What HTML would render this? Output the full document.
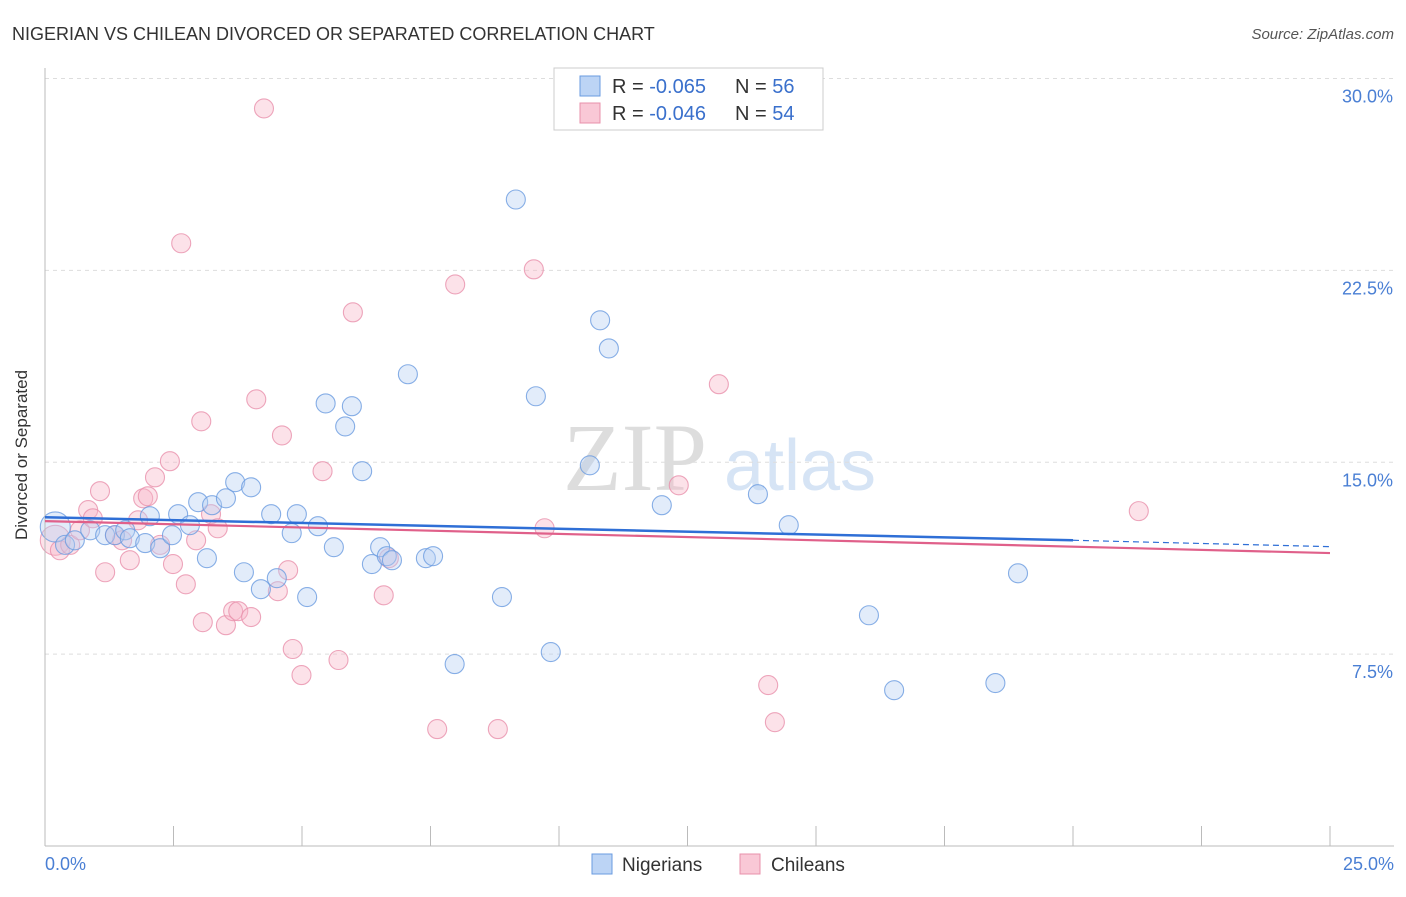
<!DOCTYPE html>
<html><head><meta charset="utf-8"><style>
body{margin:0;background:#fff;font-family:"Liberation Sans",sans-serif}
</style></head><body>
<svg id="c" width="1406" height="892" xmlns="http://www.w3.org/2000/svg">
<text x="12" y="40" font-size="18" fill="#333">NIGERIAN VS CHILEAN DIVORCED OR SEPARATED CORRELATION CHART</text>
<text x="1394" y="39" font-size="15" fill="#555" font-style="italic" text-anchor="end">Source: ZipAtlas.com</text>
<text x="635" y="490" font-size="96" fill="#ddd" font-family="Liberation Serif" text-anchor="middle">ZIP</text>
<text x="800" y="490" font-size="72" fill="#d6e4f5" text-anchor="middle">atlas</text>
<g id="grid"></g><g id="marks"></g>
<line x1="45" y1="68" x2="45" y2="846" stroke="#bbb"/>
<line x1="45" y1="846" x2="1394" y2="846" stroke="#bbb"/>
<text x="27" y="455" font-size="17" fill="#333" text-anchor="middle" transform="rotate(-90 27 455)">Divorced or Separated</text>
<text x="45" y="870" font-size="18" fill="#4a7fd4">0.0%</text>
<text x="1394" y="870" font-size="18" fill="#4a7fd4" text-anchor="end">25.0%</text>
<rect x="554" y="68" width="269" height="62" fill="#fff" stroke="#ccc"/>
<rect x="580" y="76" width="20" height="20" fill="#bcd4f5" stroke="#6a9be0"/>
<rect x="580" y="103" width="20" height="20" fill="#f9c8d6" stroke="#e890ab"/>
<text x="612" y="93" font-size="20" fill="#333">R = <tspan fill="#3a70cc">-0.065</tspan></text>
<text x="735" y="93" font-size="20" fill="#333">N = <tspan fill="#3a70cc">56</tspan></text>
<text x="612" y="120" font-size="20" fill="#333">R = <tspan fill="#3a70cc">-0.046</tspan></text>
<text x="735" y="120" font-size="20" fill="#333">N = <tspan fill="#3a70cc">54</tspan></text>
<rect x="592" y="854" width="20" height="20" fill="#bcd4f5" stroke="#6a9be0"/>
<text x="622" y="871" font-size="19" fill="#333">Nigerians</text>
<rect x="740" y="854" width="20" height="20" fill="#f9c8d6" stroke="#e890ab"/>
<text x="771" y="871" font-size="19" fill="#333">Chileans</text>
</svg>
<script>
const yTicks=[7.5,15,22.5,30];
const xTicks=[0,2.5,5,7.5,10,12.5,15,17.5,20,22.5,25];
const nigX=[0.2,0.39,0.58,0.88,1.17,1.36,1.56,1.65,1.95,2.04,2.24,2.47,2.59,2.82,2.98,3.15,3.25,3.52,3.7,3.87,4.01,4.2,4.4,4.51,4.8,4.9,5.1,5.31,5.46,5.62,5.84,5.97,6.17,6.36,6.52,6.65,6.75,7.06,7.41,7.55,7.97,8.89,9.16,9.55,9.84,10.6,10.8,10.97,12.0,13.87,14.47,16.03,16.52,18.49,18.93];
const nigY=[12.47,11.77,11.95,12.34,12.15,12.15,12.34,12.03,11.84,12.89,11.64,12.15,12.97,12.54,13.44,11.25,13.32,13.59,14.22,10.7,14.02,10.04,12.97,10.47,12.23,12.97,9.73,12.5,17.3,11.68,16.4,17.19,14.65,11.02,11.68,11.33,11.17,18.44,11.25,11.33,7.11,9.73,25.27,17.58,7.58,14.88,20.55,19.45,13.32,13.75,12.54,9.02,6.09,6.37,10.66];
const chiX=[0.2,0.29,0.49,0.68,0.84,0.93,1.07,1.17,1.36,1.5,1.65,1.81,1.91,2.0,2.14,2.24,2.43,2.49,2.65,2.74,2.94,3.04,3.07,3.23,3.36,3.52,3.66,3.76,4.01,4.11,4.26,4.53,4.61,4.73,4.82,4.99,5.4,5.71,5.99,6.59,6.69,7.63,7.98,8.81,9.51,9.72,12.33,13.11,14.07,14.2,21.28];
const chiY=[11.95,11.56,11.77,12.34,13.13,12.81,13.87,10.7,12.15,11.95,11.17,12.73,13.59,13.67,14.41,11.77,15.04,11.02,23.56,10.23,11.95,16.6,8.75,12.97,12.42,8.63,9.18,9.18,8.95,17.46,28.83,9.96,16.05,10.78,7.7,6.68,14.65,7.27,20.86,9.8,11.25,4.57,21.95,4.57,22.54,12.42,14.1,18.05,6.29,4.84,13.09];
const nigTrend=[12.85,11.95,11.7];
const chiTrend=[12.7,11.45];
const X=v=>45+v/25*1285, Y=v=>846-v/30*767.5;
const NS="http://www.w3.org/2000/svg";
function mk(t,a,p){const e=document.createElementNS(NS,t);for(const k in a)e.setAttribute(k,a[k]);p.appendChild(e);return e;}
const g=document.getElementById('grid'),m=document.getElementById('marks'),svg=document.getElementById('c');
yTicks.forEach(v=>{const l=mk('line',{x1:45,x2:1394,y1:Y(v),y2:Y(v),stroke:'#ddd','stroke-dasharray':'4,4'},g);

const t=mk('text',{x:1393,y:Y(v)+24,'font-size':18,fill:'#4a7fd4','text-anchor':'end'},g);t.textContent=v.toFixed(1)+'%';
});
xTicks.forEach(v=>{const l=mk('line',{x1:X(v),x2:X(v),y1:826,y2:846,stroke:'#bbb'},g);
});
function pts(xs,ys,f,s,name){xs.forEach((x,i)=>{const r=i==0?15:9.5;const c=mk('circle',{cx:X(x),cy:Y(ys[i]),r:r,fill:f,'fill-opacity':0.4,stroke:s,'stroke-opacity':0.8,'stroke-width':1.1},m);
});}
pts(chiX,chiY,'#f7b6c9','#e890ab','chilean-point');
pts(nigX,nigY,'#b6cff3','#6a9be0','nigerian-point');
let l=mk('line',{x1:X(0),y1:Y(nigTrend[0]),x2:X(20),y2:Y(nigTrend[1]),stroke:'#2f6fd6','stroke-width':2.5},svg);

l=mk('line',{x1:X(20),y1:Y(nigTrend[1]),x2:X(25),y2:Y(nigTrend[2]),stroke:'#2f6fd6','stroke-width':1.2,'stroke-dasharray':'6,4'},svg);

l=mk('line',{x1:X(0),y1:Y(chiTrend[0]),x2:X(25),y2:Y(chiTrend[1]),stroke:'#e0608a','stroke-width':2.2},svg);

</script>
</body></html>
